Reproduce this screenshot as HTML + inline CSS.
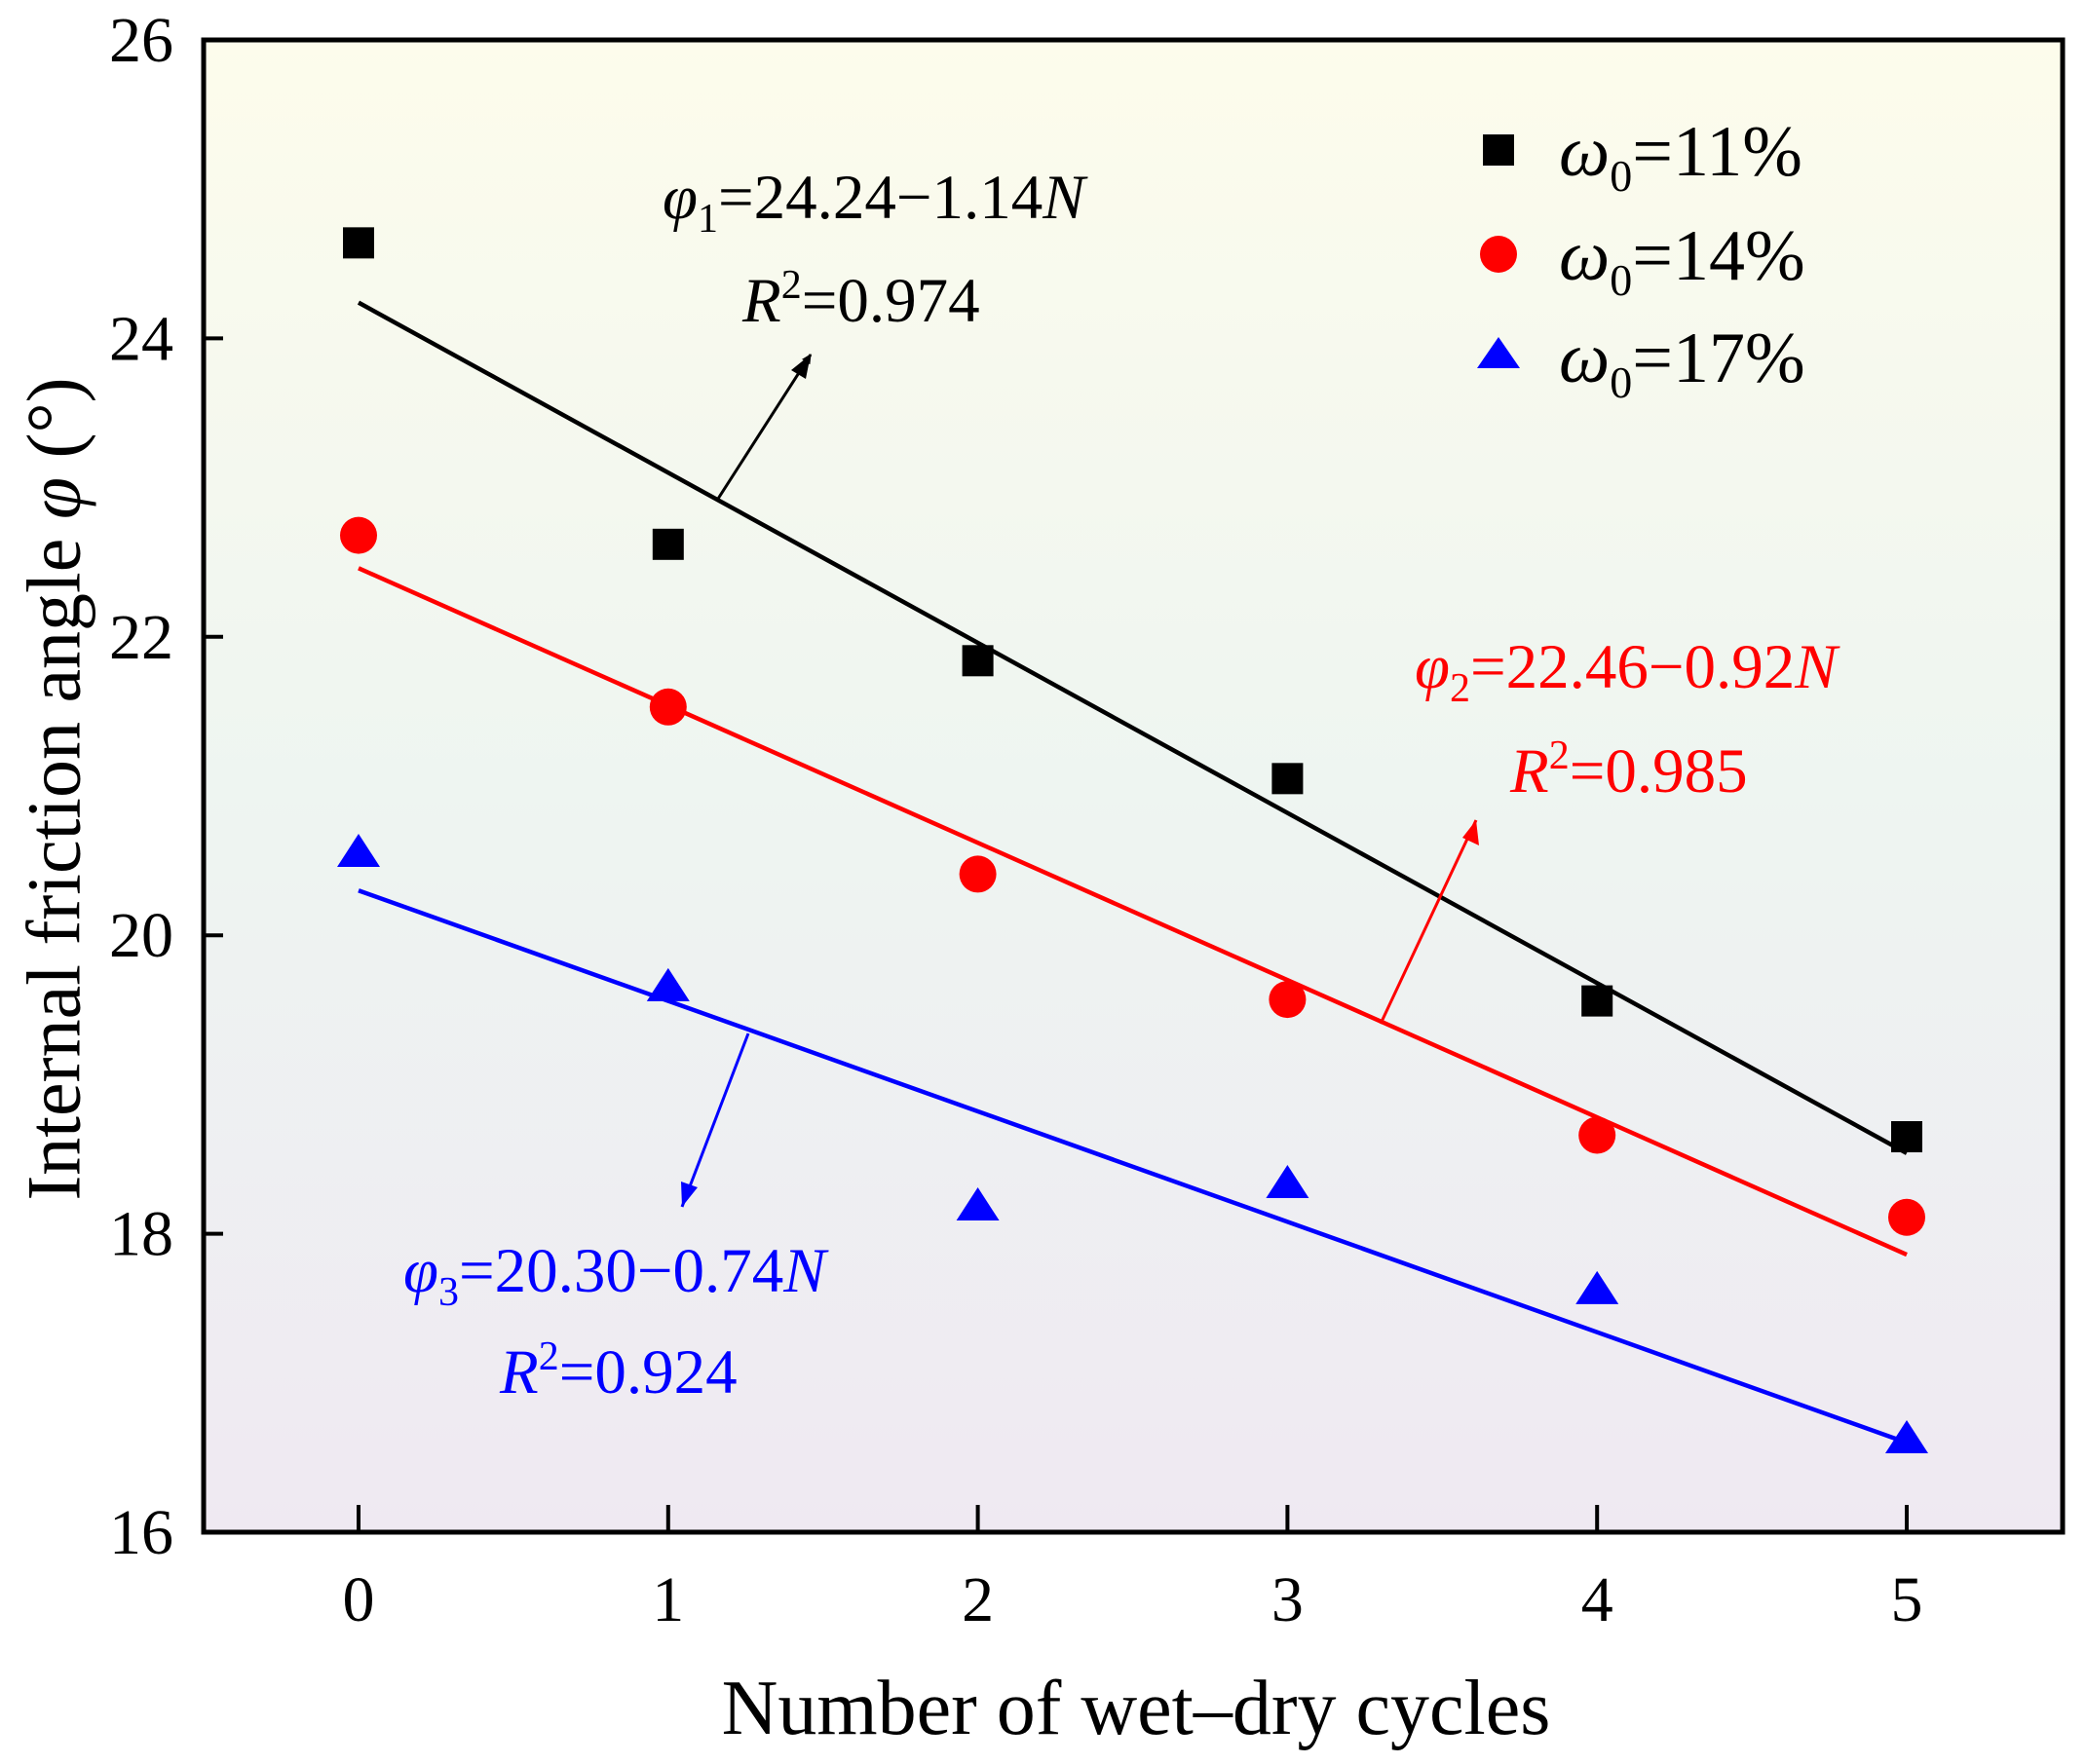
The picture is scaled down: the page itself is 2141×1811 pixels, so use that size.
<!DOCTYPE html>
<html><head><meta charset="utf-8"><style>
body{margin:0;background:#fff}
svg{display:block;font-family:"Liberation Serif",serif}
</style></head><body>
<svg id="chart" width="2141" height="1811" viewBox="0 0 2141 1811" xmlns="http://www.w3.org/2000/svg">
<defs>
<linearGradient id="bg" x1="0" y1="0" x2="0" y2="1">
<stop offset="0" stop-color="#fdfcec"/>
<stop offset="0.5" stop-color="#eef5f1"/>
<stop offset="1" stop-color="#efe9f2"/>
</linearGradient>
<marker id="ahK" markerWidth="10" markerHeight="10" refX="9" refY="5" orient="auto" markerUnits="userSpaceOnUse" viewBox="0 0 10 10"><path d="M0,0 L10,5 L0,10 z" fill="#000"/></marker>
</defs>
<rect x="209" y="41" width="1908" height="1532" fill="url(#bg)"/>
<g id="marks"></g>
<rect x="209" y="41" width="1908" height="1532" fill="none" stroke="#000" stroke-width="5"/>
<g id="axes"></g>
<text x="55" y="810" transform="rotate(-90 55 810)" font-size="78" text-anchor="middle" dominant-baseline="central">Internal friction angle <tspan font-style="italic">φ</tspan> (°)</text>
<text x="1166" y="1780" font-size="80" text-anchor="middle">Number of wet–dry cycles</text>

<g font-size="74">
<rect x="1522" y="138" width="32" height="32" fill="#000"/>
<text x="1600" y="180"><tspan font-style="italic">ω</tspan><tspan font-size="46" dy="16">0</tspan><tspan dy="-16">=11%</tspan></text>
<circle cx="1538" cy="261" r="19" fill="#ff0000"/>
<text x="1600" y="287"><tspan font-style="italic">ω</tspan><tspan font-size="46" dy="16">0</tspan><tspan dy="-16">=14%</tspan></text>
<polygon points="1538,346 1560,378 1516,378" fill="#0000ff"/>
<text x="1600" y="392"><tspan font-style="italic">ω</tspan><tspan font-size="46" dy="16">0</tspan><tspan dy="-16">=17%</tspan></text>
</g>

<g font-size="65">
<text x="680" y="224"><tspan font-style="italic">φ</tspan><tspan font-size="42" dy="14">1</tspan><tspan dy="-14">=24.24−1.14</tspan><tspan font-style="italic">N</tspan></text>
<text x="762" y="330"><tspan font-style="italic">R</tspan><tspan font-size="42" dy="-24">2</tspan><tspan dy="24">=0.974</tspan></text>
<line x1="737" y1="512" x2="832" y2="364" stroke="#000" stroke-width="3" marker-end="url(#ahK)"/>
<text x="1452" y="706" fill="#ff0000"><tspan font-style="italic">φ</tspan><tspan font-size="42" dy="14">2</tspan><tspan dy="-14">=22.46−0.92</tspan><tspan font-style="italic">N</tspan></text>
<text x="1550" y="813" fill="#ff0000"><tspan font-style="italic">R</tspan><tspan font-size="42" dy="-24">2</tspan><tspan dy="24">=0.985</tspan></text>
<line x1="1417" y1="1051" x2="1515" y2="842" stroke="#ff0000" stroke-width="3"/>
<path d="M1515,842 L1518,868 L1501,860 z" fill="#ff0000"/>
<text x="414" y="1326" fill="#0000ff"><tspan font-style="italic">φ</tspan><tspan font-size="42" dy="14">3</tspan><tspan dy="-14">=20.30−0.74</tspan><tspan font-style="italic">N</tspan></text>
<text x="513" y="1430" fill="#0000ff"><tspan font-style="italic">R</tspan><tspan font-size="42" dy="-24">2</tspan><tspan dy="24">=0.924</tspan></text>
<line x1="768" y1="1061" x2="700" y2="1239" stroke="#0000ff" stroke-width="3"/>
<path d="M700,1239 L699,1213 L716,1219 z" fill="#0000ff"/>
</g>
<path d="M832,364 L827,389 L812,380 z" fill="#000"/>
</svg>
<script>
const cycles=[0,1,2,3,4,5];
const s11=[24.64,22.62,21.84,21.05,19.56,18.65];
const s14=[22.68,21.53,20.41,19.57,18.66,18.11];
const s17=[20.55,19.65,18.18,18.33,17.62,16.62];
const fitIntercepts=[24.24,22.46,20.30];
const fitSlopes=[-1.14,-0.92,-0.74];
const xTicks=[0,1,2,3,4,5];
const yTicks=[16,18,20,22,24,26];

const NS='http://www.w3.org/2000/svg';
const X=v=>368+v*317.8;
const Y=v=>1573-(v-16)*153.2;
const marks=document.getElementById('marks');
const axes=document.getElementById('axes');
function mk(tag,attrs,parent){const e=document.createElementNS(NS,tag);for(const k in attrs)e.setAttribute(k,attrs[k]);parent.appendChild(e);return e;}

yTicks.forEach(t=>{
  const l=mk('line',{x1:209,x2:229,y1:Y(t),y2:Y(t),stroke:'#000','stroke-width':4},axes);
  
  
  const tx=mk('text',{x:178,y:Y(t)+22,'font-size':66,'text-anchor':'end'},axes);
  tx.textContent=t;
  
  
});
xTicks.forEach(t=>{
  const l=mk('line',{x1:X(t),x2:X(t),y1:1573,y2:1545,stroke:'#000','stroke-width':4},axes);
  
  
  const tx=mk('text',{x:X(t),y:1664,'font-size':66,'text-anchor':'middle'},axes);
  tx.textContent=t;
  
  
});

const colors=['#000000','#ff0000','#0000ff'];
[0,1,2].forEach(i=>{
  const a=fitIntercepts[i],b=fitSlopes[i];
  const l=mk('line',{x1:X(0),y1:Y(a),x2:X(5),y2:Y(a+5*b),stroke:colors[i],'stroke-width':4.5},marks);
  
  
});
cycles.forEach((c,j)=>{
  const x=X(c);
  const r=mk('rect',{x:x-16,y:Y(s11[j])-16,width:32,height:32,fill:'#000'},marks);
  
  
  const ci=mk('circle',{cx:x,cy:Y(s14[j]),r:19,fill:'#ff0000'},marks);
  
  
  const y=Y(s17[j]);
  const p=mk('polygon',{points:`${x},${y-20} ${x+22},${y+14} ${x-22},${y+14}`,fill:'#0000ff'},marks);
  
  
});
</script>
</body></html>
